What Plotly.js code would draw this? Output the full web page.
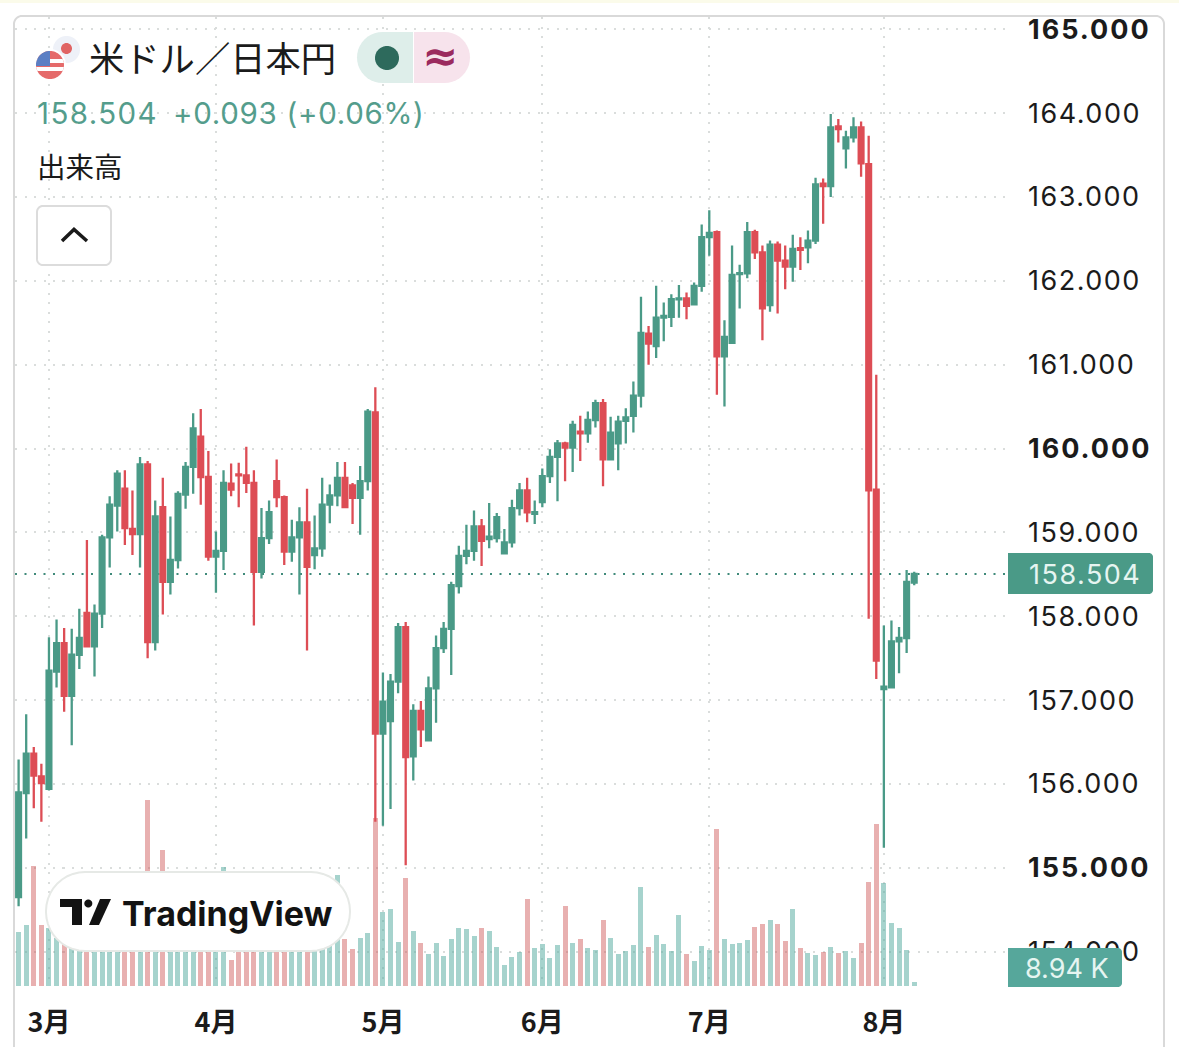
<!DOCTYPE html>
<html><head><meta charset="utf-8">
<script src="https://cdn.plot.ly/plotly-3.0.1.min.js"></script>
<style>html,body{margin:0;padding:0;background:#fff;overflow:hidden}
#c{width:1179px;height:1047px}</style></head>
<body><div id="c"></div>
<script>
const monthTicks=[4,26,48,69,91,114];
const monthLabels=['3月','4月','5月','6月','7月','8月'];
const priceTicks=[154,155,156,157,158,159,160,161,162,163,164,165];
const lastPrice=158.504;
const candleOpen=[154.65,155.89,156.36,156.09,155.94,157.34,157.68,157.05,157.54,158.04,157.64,158.03,158.94,159.32,159.52,159.04,158.98,159.81,157.69,159.30,158.41,158.67,159.45,159.78,160.14,159.66,158.71,158.78,159.58,159.69,159.68,159.59,158.53,158.93,159.61,159.42,158.77,158.94,159.12,158.73,158.81,159.33,159.44,159.65,159.56,159.41,159.61,160.43,156.60,156.75,157.22,157.87,156.33,156.87,156.52,157.14,157.62,157.85,158.36,158.72,158.78,159.07,158.92,158.93,158.75,158.88,159.29,159.50,159.22,159.36,159.67,159.90,160.06,160.01,160.20,160.18,160.34,160.54,159.87,160.06,160.33,160.39,160.63,161.37,161.22,161.56,161.57,161.78,161.79,161.72,161.94,162.52,162.58,161.10,161.26,162.08,162.09,162.58,162.34,161.71,162.43,162.24,162.17,162.39,162.40,162.48,163.16,163.13,163.84,163.58,163.71,163.83,163.39,159.51,157.13,157.15,157.70,157.74,158.40];
const candleHigh=[156.29,156.83,156.44,156.24,157.75,157.96,157.86,157.85,158.09,158.91,158.14,158.97,159.43,159.74,159.74,159.50,159.90,159.85,159.38,159.65,159.19,159.49,159.84,160.42,160.47,159.97,159.01,159.74,159.82,159.83,160.02,159.74,159.29,159.38,159.87,159.44,159.15,159.30,159.52,159.20,159.65,159.57,159.84,159.84,159.59,159.79,160.47,160.73,157.33,157.31,157.92,157.93,156.95,156.99,157.28,157.77,157.93,158.41,158.84,159.09,159.26,159.16,159.35,159.23,159.04,159.39,159.59,159.65,159.38,159.76,159.99,160.10,160.08,160.33,160.39,160.44,160.58,160.59,160.38,160.39,160.48,160.80,161.81,161.46,161.94,161.74,161.84,161.95,161.86,161.98,162.67,162.84,162.60,161.53,162.42,162.19,162.70,162.61,162.42,162.48,162.47,162.42,162.55,162.52,162.60,163.23,163.22,163.99,163.93,163.79,163.95,163.90,163.73,160.88,157.89,157.95,157.87,158.55,158.53];
const candleLow=[154.54,155.35,155.71,155.55,155.92,157.15,156.86,156.46,157.37,157.63,157.28,157.86,158.58,159.01,158.85,158.73,158.58,157.50,157.59,158.02,158.26,158.57,159.28,159.46,159.33,158.66,158.28,158.55,159.43,159.30,159.47,157.89,158.45,158.86,159.30,158.61,158.65,158.26,157.59,158.56,158.71,159.11,159.31,159.30,159.10,158.97,159.50,155.55,155.50,155.70,157.08,155.03,156.04,156.44,156.52,156.73,157.56,157.30,158.27,158.62,158.66,158.60,158.81,158.88,158.74,158.82,159.20,159.12,159.10,159.30,159.59,159.37,159.61,159.72,159.85,160.07,160.25,159.55,159.87,159.74,160.06,160.19,160.49,161.00,161.08,161.28,161.45,161.56,161.54,161.71,161.87,162.30,160.64,160.50,161.26,161.67,162.03,162.26,161.29,161.63,161.61,161.90,161.99,162.13,162.21,162.44,162.68,163.00,163.65,163.34,163.65,163.24,157.97,157.25,155.24,157.14,157.32,157.56,158.37];
const candleClose=[155.90,156.36,156.10,156.01,157.35,157.68,157.05,157.54,157.74,157.64,158.03,158.94,159.33,159.70,159.05,158.98,159.81,157.69,159.19,158.41,158.67,159.46,159.78,160.24,159.66,158.71,158.78,159.59,159.51,159.68,159.59,158.53,158.93,159.24,159.42,158.77,158.94,159.12,158.59,158.81,159.33,159.44,159.65,159.30,159.41,159.61,160.44,156.60,156.98,157.22,157.87,156.32,156.87,156.65,157.14,157.62,157.85,158.37,158.72,158.78,159.07,158.90,158.95,159.18,158.88,159.29,159.50,159.24,159.24,159.67,159.90,160.06,160.01,160.28,160.18,160.34,160.54,159.87,160.19,160.32,160.37,160.63,161.38,161.25,161.56,161.58,161.78,161.79,161.70,161.94,162.52,162.57,161.10,161.33,162.07,162.09,162.58,162.34,161.67,162.43,162.24,162.17,162.38,162.37,162.48,163.15,163.13,163.83,163.81,163.71,163.83,163.40,159.50,157.47,157.16,157.70,157.74,158.41,158.504];
const volumeK=[130,146,288,146,139,115,101,120,110,106,125,115,132,110,120,139,110,446,120,326,115,106,110,125,101,106,115,286,62,82,82,86,96,106,96,96,101,106,96,120,110,132,266,113,89,115,127,403,178,185,106,259,132,103,77,103,72,113,139,137,120,139,132,94,50,70,82,209,91,101,67,98,192,103,113,91,86,158,115,77,84,98,238,94,122,101,84,170,77,60,96,86,377,113,101,103,110,142,149,158,149,108,185,91,79,74,82,94,79,84,67,103,250,389,247,151,139,86,8.94];

const L=15,R=1005,T=17,B=986;
const X=p=>(p-L)/(R-L), Y=p=>(B-p)/(B-T);
const GREEN='#4a9a87',RED='#dd4d55';
const idx=candleOpen.map((_,i)=>i);
const poly=pts=>'M'+pts.map(p=>X(p[0])+','+Y(p[1])).join('L')+'Z';
const open=pts=>'M'+pts.map(p=>X(p[0])+','+Y(p[1])).join('L');
function circlePts(cx,cy,r,n=64){const a=[];for(let i=0;i<n;i++){const t=i/n*2*Math.PI;a.push([cx+r*Math.cos(t),cy+r*Math.sin(t)]);}return a;}
function rr(x0,y0,x1,y1,rTL,rTR,rBR,rBL){const a=[];
 const arc=(cx,cy,r,s)=>{if(r<=0){a.push([cx,cy]);return;}for(let i=0;i<=10;i++){const t=(s+i/10*90)*Math.PI/180;a.push([cx+r*Math.cos(t),cy+r*Math.sin(t)]);}};
 arc(x0+rTL,y0+rTL,rTL,180);arc(x1-rTR,y0+rTR,rTR,270);arc(x1-rBR,y1-rBR,rBR,0);arc(x0+rBL,y1-rBL,rBL,90);return a;}
const S=(path,fill,line,w)=>({type:'path',xref:'paper',yref:'paper',path,fillcolor:fill||'rgba(0,0,0,0)',line:{color:line||'rgba(0,0,0,0)',width:w||0},layer:'above'});
const clampC=(cx,cy,r,f)=>poly(circlePts(cx,cy,r).map(f));

const shapes=[
 {type:'line',xref:'paper',yref:'y2',x0:0,x1:1,y0:lastPrice,y1:lastPrice,line:{color:'#3f8a7a',width:2,dash:'2px,7.5px'},layer:'below'},
 S(poly([[0,0],[1179,0],[1179,3],[0,3]]),'#fbfbea'),
 S(open([[14,1047],...rr(14,16,1164,1100,8,8,0,0).slice(0,22),[1164,1047]]),null,'#d9d9d9',2),
 S(poly(circlePts(66.5,49.5,13.5)),'#eef1f8'),
 S(poly(circlePts(66.5,48.5,5.5)),'#e06464'),
 S(poly(circlePts(50,65,16)),'#ffffff'),
 S(poly(circlePts(50,65,14)),'#e56a6a'),
 S(clampC(50,65,14,p=>[p[0],Math.min(Math.max(p[1],59),71)]),'#ffffff'),
 S(clampC(50,65,14,p=>[p[0],Math.min(Math.max(p[1],63),67)]),'#e56a6a'),
 S(clampC(50,65,14,p=>[Math.min(p[0],50),Math.min(p[1],66)]),'#5b7fc4'),
 S(poly(rr(357,32,413,83,25.5,0,0,25.5)),'#deeeea'),
 S(poly(rr(414,32,470,83,0,25.5,25.5,0)),'#f7e3ec'),
 S(poly(circlePts(387,58,12)),'#2d6a5c'),
 S(poly(rr(37,206,111,265,6,6,6,6)),'#ffffff','#dcdcdc',2),
 S(open([[62,241],[74,229.5],[87,241]]),null,'#1a1a1a',3.5),
 S(poly(rr(46,872,350,951,39,39,39,39)),'#ffffff','#e6e9e6',2),
 S(poly([[60,899],[82,899],[82,925],[72,925],[72,907],[60,907]]),'#131313'),
 S(poly(circlePts(88.3,903.5,4)),'#131313'),
 S(poly([[100,899],[111,899],[99,925],[89,925]]),'#131313'),
 S(poly(rr(1008,553,1153,594,0,4,4,0)),'#4a9a87'),
 S(poly(rr(1008,948,1122,987,0,4,4,0)),'#56a79b')
];
const spaced=(t,px)=>'<span style="letter-spacing:'+px+'px">'+t+'</span>';
const Ann=(text,x,y,size,color,family,extra)=>Object.assign({text,xref:'paper',yref:'paper',x:X(x),y:Y(y),xanchor:'left',yanchor:'middle',showarrow:false,font:{size,color,family},borderpad:0},extra||{});
const CJK='"Noto Sans CJK JP"';
const annotations=[
 Ann('米ドル／日本円',88,56,35.3,'#1b1b1b',CJK),
 Ann('≈',421,56,43,'#9b2a5e','"DejaVu Sans"',{font:{size:43,color:'#9b2a5e',family:'"DejaVu Sans"',weight:700}}),
 Ann(spaced('158.504',1.4),36,113,29.5,'#549d8c','Inter'),
 Ann(spaced('+0.093 (+0.06%)',0.7),172,113,29.5,'#549d8c','Inter'),
 Ann('出来高',36,166,28.5,'#1b1b1b',CJK),
 Ann('TradingView',121,913,34,'#131313','Inter',{font:{size:34,color:'#131313',family:'Inter',weight:700}}),
 Ann(spaced(lastPrice.toFixed(3),1.5),1028,574.5,27,'#e6f5f1','Inter'),
 Ann('8.94 K',1024,968,27,'#e6f5f1','Inter')
];
const barColors=candleOpen.map((o,i)=>candleClose[i]<o?'rgba(205,80,80,0.45)':'rgba(84,170,160,0.52)');
const traces=[
 {type:'bar',x:idx,y:volumeK,xaxis:'x',yaxis:'y',width:0.66,marker:{color:barColors,line:{width:0}},showlegend:false,hoverinfo:'skip'},
 {type:'candlestick',x:idx,open:candleOpen,high:candleHigh,low:candleLow,close:candleClose,xaxis:'x',yaxis:'y2',whiskerwidth:0,
  increasing:{line:{color:GREEN,width:2.3},fillcolor:GREEN},decreasing:{line:{color:RED,width:2.3},fillcolor:RED},showlegend:false,hoverinfo:'skip'}
];
const layout={width:1179,height:1047,autosize:false,margin:{l:L,r:1179-R,t:T,b:1047-B,pad:0},paper_bgcolor:'#fff',plot_bgcolor:'#fff',
 showlegend:false,boxgap:0.1,bargap:0,hovermode:false,dragmode:false,
 xaxis:{type:'linear',range:[(L-18.6)/7.59,(R-18.6)/7.59],tickmode:'array',tickvals:monthTicks,ticktext:monthLabels,showgrid:true,griddash:'2px,7.5px',gridcolor:'#dadddc',gridwidth:2,zeroline:false,showline:false,ticks:'',ticklabelstandoff:18,tickfont:{family:CJK,size:27,color:'#1b1b1b',weight:700},rangeslider:{visible:false},tickangle:0},
 yaxis:{range:[0,2325.6],visible:false,showgrid:false,zeroline:false,fixedrange:true},
 yaxis2:{overlaying:'y',side:'right',anchor:'x',range:[160-(B-448.5)/83.85,160+(448.5-T)/83.85],tickmode:'array',tickvals:priceTicks,
  ticktext:priceTicks.map(v=>{const s=spaced(v.toFixed(3),v%5===0?2:1.5);return v%5===0?'<b>'+s+'</b>':s;}),
  showgrid:true,griddash:'2px,7.5px',gridcolor:'#dadddc',gridwidth:2,zeroline:false,showline:false,ticks:'',ticklabelstandoff:22,tickfont:{family:'Inter',size:27,color:'#1b1b1b'}},
 shapes,annotations};
Plotly.newPlot('c',traces,layout,{staticPlot:true,displayModeBar:false});
</script></body></html>
